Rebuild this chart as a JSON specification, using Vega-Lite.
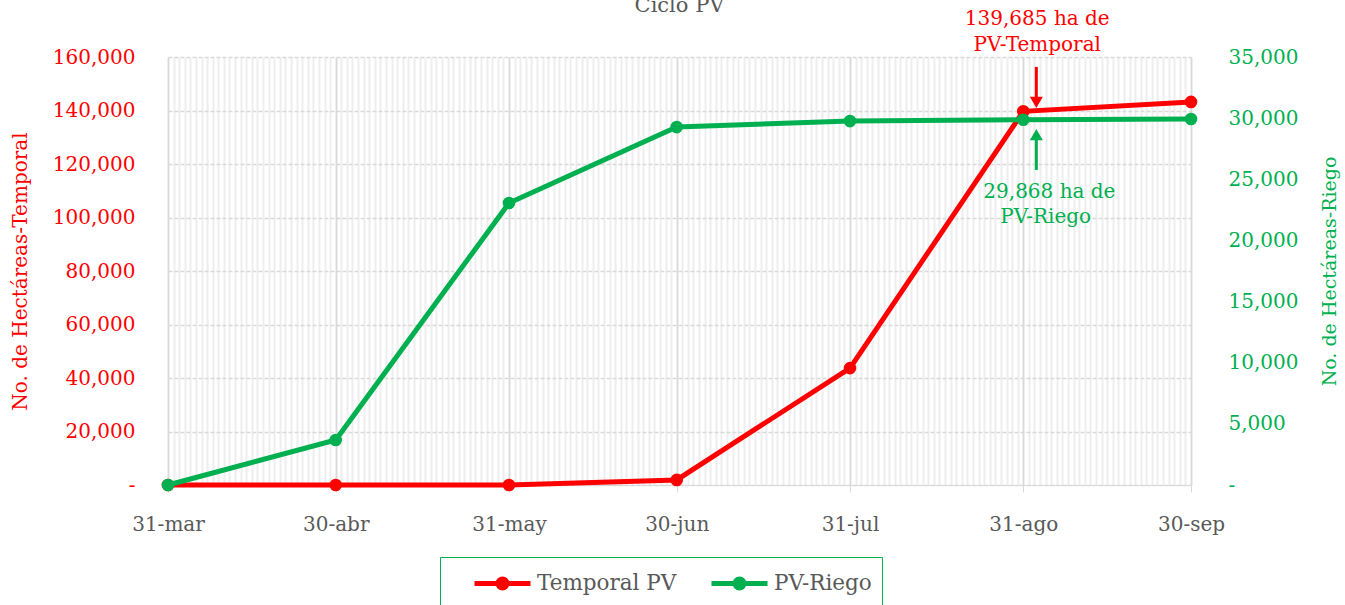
{
  "$schema": "https://vega.github.io/schema/vega-lite/v6.json",
  "width": 1023,
  "height": 428,
  "autosize": {"type": "none"},
  "padding": {"left": 168, "top": 57, "right": 154, "bottom": 120},
  "title": {"text": "Ciclo PV", "frame": "group", "anchor": "middle", "baseline": "alphabetic", "offset": -24, "fontSize": 21, "fontWeight": "normal", "color": "#595959", "font": "DejaVu Serif"},
  "config": {
    "font": "DejaVu Serif",
    "view": {"stroke": null},
    "axis": {"labelFont": "DejaVu Serif", "titleFont": "DejaVu Serif", "labelFontSize": 20, "titleFontSize": 20, "titleFontWeight": "normal"}
  },
  "datasets": {
    "serie": [
      {"fecha": "2023-03-31", "serie": "Temporal PV", "valor": 0},
      {"fecha": "2023-04-30", "serie": "Temporal PV", "valor": 0},
      {"fecha": "2023-05-31", "serie": "Temporal PV", "valor": 0},
      {"fecha": "2023-06-30", "serie": "Temporal PV", "valor": 1900},
      {"fecha": "2023-07-31", "serie": "Temporal PV", "valor": 43700},
      {"fecha": "2023-08-31", "serie": "Temporal PV", "valor": 139685},
      {"fecha": "2023-09-30", "serie": "Temporal PV", "valor": 143200},
      {"fecha": "2023-03-31", "serie": "PV-Riego", "valor": 0},
      {"fecha": "2023-04-30", "serie": "PV-Riego", "valor": 3680},
      {"fecha": "2023-05-31", "serie": "PV-Riego", "valor": 23060},
      {"fecha": "2023-06-30", "serie": "PV-Riego", "valor": 29270},
      {"fecha": "2023-07-31", "serie": "PV-Riego", "valor": 29760},
      {"fecha": "2023-08-31", "serie": "PV-Riego", "valor": 29868},
      {"fecha": "2023-09-30", "serie": "PV-Riego", "valor": 29930}
    ],
    "notas": [
      {"tipo": "flecha", "serie": "Temporal PV", "fecha": "2023-09-02T08:00:00Z", "desde": 156300, "hasta": 144500},
      {"tipo": "punta", "serie": "Temporal PV", "fecha": "2023-09-02T08:00:00Z", "valor": 143000},
      {"tipo": "texto", "serie": "Temporal PV", "fecha": "2023-09-02T12:00:00Z", "valor": 174200, "texto": "139,685 ha de"},
      {"tipo": "texto", "serie": "Temporal PV", "fecha": "2023-09-02T12:00:00Z", "valor": 164500, "texto": "PV-Temporal"},
      {"tipo": "flecha", "serie": "PV-Riego", "fecha": "2023-09-02T08:00:00Z", "desde": 25760, "hasta": 28300},
      {"tipo": "punta", "serie": "PV-Riego", "fecha": "2023-09-02T08:00:00Z", "valor": 28650},
      {"tipo": "texto", "serie": "PV-Riego", "fecha": "2023-09-04T16:00:00Z", "valor": 23960, "texto": "29,868 ha de"},
      {"tipo": "texto", "serie": "PV-Riego", "fecha": "2023-09-04T00:00:00Z", "valor": 21910, "texto": "PV-Riego"}
    ]
  },
  "layer": [
    {
      "encoding": {
        "x": {
          "field": "fecha", "type": "temporal",
          "scale": {"type": "utc", "domain": [{"year": 2023, "month": 3, "date": 31, "utc": true}, {"year": 2023, "month": 9, "date": 30, "utc": true}], "nice": false},
          "axis": {"orient": "bottom", "grid": true, "gridColor": "#eeeeee", "gridWidth": 2, "labels": false, "ticks": false, "domain": false, "title": null, "tickCount": {"interval": "day", "step": 1}}
        }
      },
      "layer": [
        {
          "data": {"name": "serie"},
          "transform": [{"filter": "datum.serie === 'Temporal PV'"}],
          "mark": {"type": "line", "strokeWidth": 5, "point": {"filled": true, "size": 160}},
          "encoding": {
            "y": {
              "field": "valor", "type": "quantitative",
              "scale": {"domain": [0, 160000], "nice": false},
              "axis": {
                "orient": "left", "values": [0, 20000, 40000, 60000, 80000, 100000, 120000, 140000, 160000],
                "labelExpr": "datum.value === 0 ? '-' : format(datum.value, ',')",
                "labelColor": "#FF0000", "ticks": false, "domain": false, "labelPadding": 33,
                "grid": true, "gridColor": "#d9d9d9", "gridDash": [4, 2], "gridWidth": 1.5,
                "title": "No. de Hectáreas-Temporal", "titleColor": "#FF0000", "titlePadding": 22
              }
            },
            "color": {
              "field": "serie", "type": "nominal",
              "scale": {"domain": ["Temporal PV", "PV-Riego"], "range": ["#FF0000", "#00B050"]},
              "legend": {
                "title": null, "orient": "none", "legendX": 272, "legendY": 500, "direction": "horizontal",
                "strokeColor": "#00B050", "fillColor": "#ffffff", "padding": 10,
                "symbolType": "M-2,0H2M-0.32,0A0.32,0.32,0,1,0,0.32,0A0.32,0.32,0,1,0,-0.32,0Z",
                "symbolSize": 784, "symbolStrokeWidth": 5, "symbolOffset": 36, "labelOffset": 18,
                "columnPadding": 10, "labelFont": "DejaVu Serif", "labelFontSize": 21.5, "labelColor": "#595959",
                "encode": {"symbols": {"update": {"fill": {"scale": "color", "field": "value"}}}}
              }
            }
          }
        },
        {
          "data": {"name": "notas"},
          "transform": [{"filter": "datum.serie === 'Temporal PV' && datum.tipo === 'flecha'"}],
          "mark": {"type": "rule", "color": "#FF0000", "strokeWidth": 3},
          "encoding": {"y": {"field": "desde", "type": "quantitative"}, "y2": {"field": "hasta"}}
        },
        {
          "data": {"name": "notas"},
          "transform": [{"filter": "datum.serie === 'Temporal PV' && datum.tipo === 'punta'"}],
          "mark": {"type": "point", "shape": "triangle-down", "filled": true, "color": "#FF0000", "size": 170, "opacity": 1},
          "encoding": {"y": {"field": "valor", "type": "quantitative"}}
        },
        {
          "data": {"name": "notas"},
          "transform": [{"filter": "datum.serie === 'Temporal PV' && datum.tipo === 'texto'"}],
          "mark": {"type": "text", "color": "#FF0000", "fontSize": 20, "font": "DejaVu Serif", "baseline": "middle", "align": "center"},
          "encoding": {"y": {"field": "valor", "type": "quantitative"}, "text": {"field": "texto"}}
        }
      ]
    },
    {
      "encoding": {
        "x": {
          "field": "fecha", "type": "temporal",
          "scale": {"type": "utc"},
          "axis": {
            "orient": "bottom",
            "values": [
              {"year": 2023, "month": 3, "date": 31, "utc": true},
              {"year": 2023, "month": 4, "date": 30, "utc": true},
              {"year": 2023, "month": 5, "date": 31, "utc": true},
              {"year": 2023, "month": 6, "date": 30, "utc": true},
              {"year": 2023, "month": 7, "date": 31, "utc": true},
              {"year": 2023, "month": 8, "date": 31, "utc": true},
              {"year": 2023, "month": 9, "date": 30, "utc": true}
            ],
            "labelExpr": "utcFormat(datum.value, '%d') + '-' + ['ene','feb','mar','abr','may','jun','jul','ago','sep','oct','nov','dic'][utcmonth(datum.value)]",
            "labelFlush": false, "labelOverlap": false,
            "grid": true, "gridColor": "#d9d9d9", "gridWidth": 1.5,
            "ticks": true, "tickColor": "#d9d9d9", "tickSize": 7, "domain": true, "domainColor": "#d9d9d9",
            "labelColor": "#595959", "labelPadding": 22, "title": null
          }
        }
      },
      "layer": [
        {
          "data": {"name": "serie"},
          "transform": [{"filter": "datum.serie === 'PV-Riego'"}],
          "mark": {"type": "line", "strokeWidth": 5, "point": {"filled": true, "size": 160}},
          "encoding": {
            "y": {
              "field": "valor", "type": "quantitative",
              "scale": {"domain": [0, 35000], "nice": false},
              "axis": {
                "orient": "right", "values": [0, 5000, 10000, 15000, 20000, 25000, 30000, 35000],
                "labelExpr": "datum.value === 0 ? '-' : format(datum.value, ',')",
                "labelColor": "#00B050", "ticks": false, "domain": false, "labelPadding": 37, "grid": false,
                "title": "No. de Hectáreas-Riego", "titleColor": "#00B050", "titleAngle": 270, "titleFontSize": 19, "titlePadding": 42
              }
            },
            "color": {
              "field": "serie", "type": "nominal",
              "scale": {"domain": ["Temporal PV", "PV-Riego"], "range": ["#FF0000", "#00B050"]}
            }
          }
        },
        {
          "data": {"name": "notas"},
          "transform": [{"filter": "datum.serie === 'PV-Riego' && datum.tipo === 'flecha'"}],
          "mark": {"type": "rule", "color": "#00B050", "strokeWidth": 3},
          "encoding": {"y": {"field": "desde", "type": "quantitative"}, "y2": {"field": "hasta"}}
        },
        {
          "data": {"name": "notas"},
          "transform": [{"filter": "datum.serie === 'PV-Riego' && datum.tipo === 'punta'"}],
          "mark": {"type": "point", "shape": "triangle-up", "filled": true, "color": "#00B050", "size": 170, "opacity": 1},
          "encoding": {"y": {"field": "valor", "type": "quantitative"}}
        },
        {
          "data": {"name": "notas"},
          "transform": [{"filter": "datum.serie === 'PV-Riego' && datum.tipo === 'texto'"}],
          "mark": {"type": "text", "color": "#00B050", "fontSize": 20, "font": "DejaVu Serif", "baseline": "middle", "align": "center"},
          "encoding": {"y": {"field": "valor", "type": "quantitative"}, "text": {"field": "texto"}}
        }
      ]
    }
  ],
  "resolve": {"scale": {"y": "independent"}, "axis": {"x": "independent"}}
}
